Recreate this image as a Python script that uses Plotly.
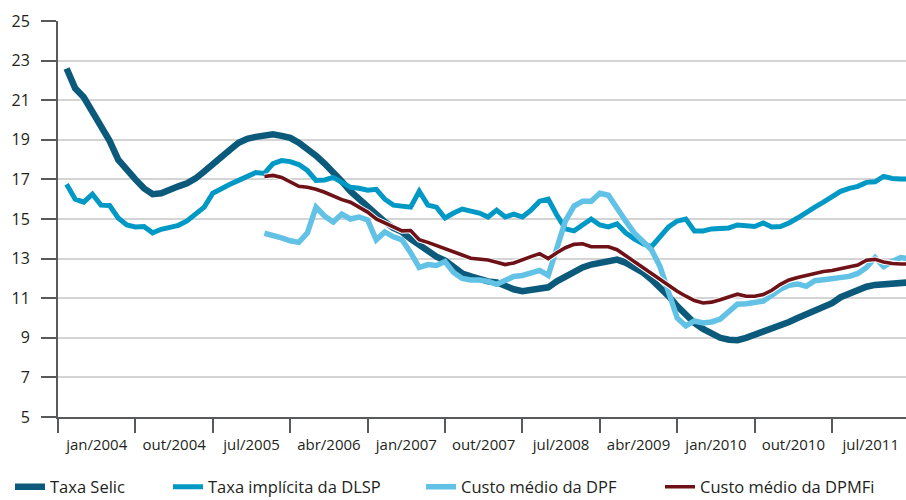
import plotly.graph_objects as go

# month index (0 = first month plotted, monthly steps)
selic = [22.6, 21.6, 21.15, 20.4, 19.7, 18.95, 18.0, 17.45, 17.0, 16.55,
         16.25, 16.3, 16.5, 16.65, 16.8, 17.05, 17.4, 17.8, 18.1, 18.5,
         18.85, 19.05, 19.15, 19.2, 19.28, 19.2, 19.1, 18.85, 18.55, 18.2,
         17.8, 17.4, 16.9, 16.4, 16.0, 15.6, 15.2, 14.85, 14.55, 14.35,
         14.0, 13.7, 13.35, 13.1, 12.9, 12.6, 12.25, 12.1, 11.95, 11.85,
         11.8, 11.62, 11.45, 11.35, 11.4, 11.45, 11.55, 11.85, 12.1, 12.35,
         12.55, 12.7, 12.76, 12.9, 12.95, 12.8, 12.55, 12.3, 11.95, 11.55,
         11.1, 10.6, 10.15, 9.75, 9.45, 9.23, 9.0, 8.9, 8.88, 9.0,
         9.15, 9.3, 9.42, 9.6, 9.8, 10.0, 10.2, 10.38, 10.55, 10.75,
         11.05, 11.25, 11.45, 11.58, 11.67, 11.72, 11.76, 11.8, 11.8]

dlsp = [16.75, 16.0, 15.85, 16.25, 15.7, 15.68, 15.05, 14.7, 14.6, 14.62,
        14.3, 14.48, 14.58, 14.68, 14.9, 15.25, 15.6, 16.3, 16.55, 16.75,
        16.95, 17.15, 17.35, 17.3, 17.8, 17.95, 17.9, 17.75, 17.45, 16.95,
        16.97, 17.1, 16.85, 16.6, 16.55, 16.45, 16.5, 16.0, 15.7, 15.62,
        15.6, 16.4, 15.7, 15.6, 15.05, 15.3, 15.5, 15.4, 15.3, 15.1,
        15.45, 15.1, 15.25, 15.1, 15.45, 15.9, 16.0, 15.2, 14.5, 14.4,
        14.7, 15.0, 14.7, 14.6, 14.75, 14.3, 14.0, 13.75, 13.6, 14.1,
        14.6, 14.9, 15.0, 14.4, 14.4, 14.5, 14.52, 14.55, 14.7, 14.68,
        14.62, 14.8, 14.6, 14.62, 14.8, 15.05, 15.35, 15.6, 15.85, 16.1,
        16.4, 16.55, 16.65, 16.85, 16.88, 17.15, 17.05, 17.02, 17.02]

dpf = [None] * 23 + [
        14.28, 14.2, 14.05, 13.9, 13.82, 14.3, 15.6, 15.15, 14.85, 15.25,
        15.0, 15.1, 14.95, 13.95, 14.35, 14.1, 13.95, 13.3, 12.55, 12.7,
        12.65, 12.85, 12.3, 12.0, 11.92, 11.92, 11.85, 11.7, 11.9, 12.1,
        12.15, 12.3, 12.4, 12.15, 13.6, 14.9, 15.65, 15.9, 15.9, 16.3,
        16.2, 15.5, 14.9, 14.3, 13.9, 13.45, 12.6, 11.2, 10.0, 9.6,
        9.85, 9.75, 9.8, 9.95, 10.3, 10.7, 10.72, 10.78, 10.85, 11.15,
        11.45, 11.65, 11.72, 11.6, 11.88, 11.93, 11.97, 12.0, 12.1, 12.25,
        12.55, 13.05, 12.6, 12.85, 13.05, 13.0]

dpmfi = [None] * 23 + [
        17.15, 17.2, 17.1, 16.9, 16.65, 16.6, 16.5, 16.35, 16.15, 15.98,
        15.85, 15.6, 15.35, 15.0, 14.8, 14.65, 14.4, 14.42, 13.95, 13.82,
        13.65, 13.52, 13.35, 13.18, 13.02, 12.98, 12.93, 12.82, 12.7, 12.78,
        12.92, 13.1, 13.25, 13.0, 13.3, 13.55, 13.72, 13.75, 13.6, 13.62,
        13.6, 13.45, 13.15, 12.85, 12.55, 12.2, 11.9, 11.6, 11.35, 11.1,
        10.88, 10.76, 10.8, 10.92, 11.05, 11.2, 11.1, 11.1, 11.18, 11.4,
        11.7, 11.92, 12.05, 12.15, 12.28, 12.35, 12.4, 12.48, 12.57, 12.67,
        12.92, 12.96, 12.83, 12.75, 12.73, 12.73]

months = list(range(len(selic)))

tick_labels = ["jan/2004", "out/2004", "jul/2005", "abr/2006", "jan/2007",
               "out/2007", "jul/2008", "abr/2009", "jan/2010", "out/2010",
               "jul/2011"]
y_ticks = [5, 7, 9, 11, 13, 15, 17, 19, 21, 23, 25]

names = ["Taxa Selic", "Taxa implícita da DLSP", "Custo médio da DPF",
         "Custo médio da DPMFi"]
colors = ["#0B5A7C", "#0098C5", "#62C2E6", "#6E1217"]
widths = [6.5, 5, 5.5, 3.6]
series = [selic, dlsp, dpf, dpmfi]

FONT = "Open Sans"
fig = go.Figure()
legend_names = ["legend", "legend2", "legend3", "legend4"]
for k, (nm, col, w, ys) in enumerate(zip(names, colors, widths, series)):
    if k == 3:
        fig.add_trace(go.Scatter(x=months, y=ys, mode="lines",
                                 line=dict(color="white", width=w + 2),
                                 showlegend=False, hoverinfo="skip"))
    fig.add_trace(go.Scatter(x=months, y=ys, mode="lines", name=nm,
                             line=dict(color=col, width=w),
                             legend=legend_names[k]))

label_pos = [3.5 + 9 * k for k in range(len(tick_labels))]

fig.update_layout(
    width=906, height=500,
    margin=dict(l=58, r=0, t=21, b=83),
    plot_bgcolor="white", paper_bgcolor="white",
    font=dict(family=FONT, color="#231F20", size=14),
    xaxis=dict(range=[-1, 97.6], tickmode="array", tickvals=label_pos,
               ticktext=tick_labels, ticks="outside", ticklen=13,
               tickcolor="rgba(0,0,0,0)", showgrid=False, zeroline=False,
               showline=True, linecolor="#58595B", linewidth=2,
               tickfont=dict(size=15), automargin=False,
               minor=dict(tick0=-1, dtick=9, ticks="outside", ticklen=14,
                          tickcolor="#58595B", tickwidth=2, showgrid=False)),
    yaxis=dict(range=[5, 25], tickmode="array", tickvals=y_ticks,
               ticks="outside", ticklen=15, tickcolor="#58595B", tickwidth=2,
               showgrid=True, gridcolor="#D4D4D4", gridwidth=1.5,
               zeroline=False, showline=True, linecolor="#58595B",
               linewidth=2, tickfont=dict(size=16), ticklabelstandoff=8,
               automargin=False),
)

leg_x = [10, 168, 421, 660]
for name, px in zip(legend_names, leg_x):
    fig.update_layout({name: dict(orientation="h", x=(px - 58) / 848,
                                  xanchor="left", yref="container", y=0.026,
                                  yanchor="middle", bgcolor="rgba(0,0,0,0)",
                                  font=dict(size=16.5, family=FONT))})

fig.write_html("out.html", config={"displayModeBar": False},
               post_script="document.body.style.margin='0px';"
                           "document.body.style.overflow='hidden';")
